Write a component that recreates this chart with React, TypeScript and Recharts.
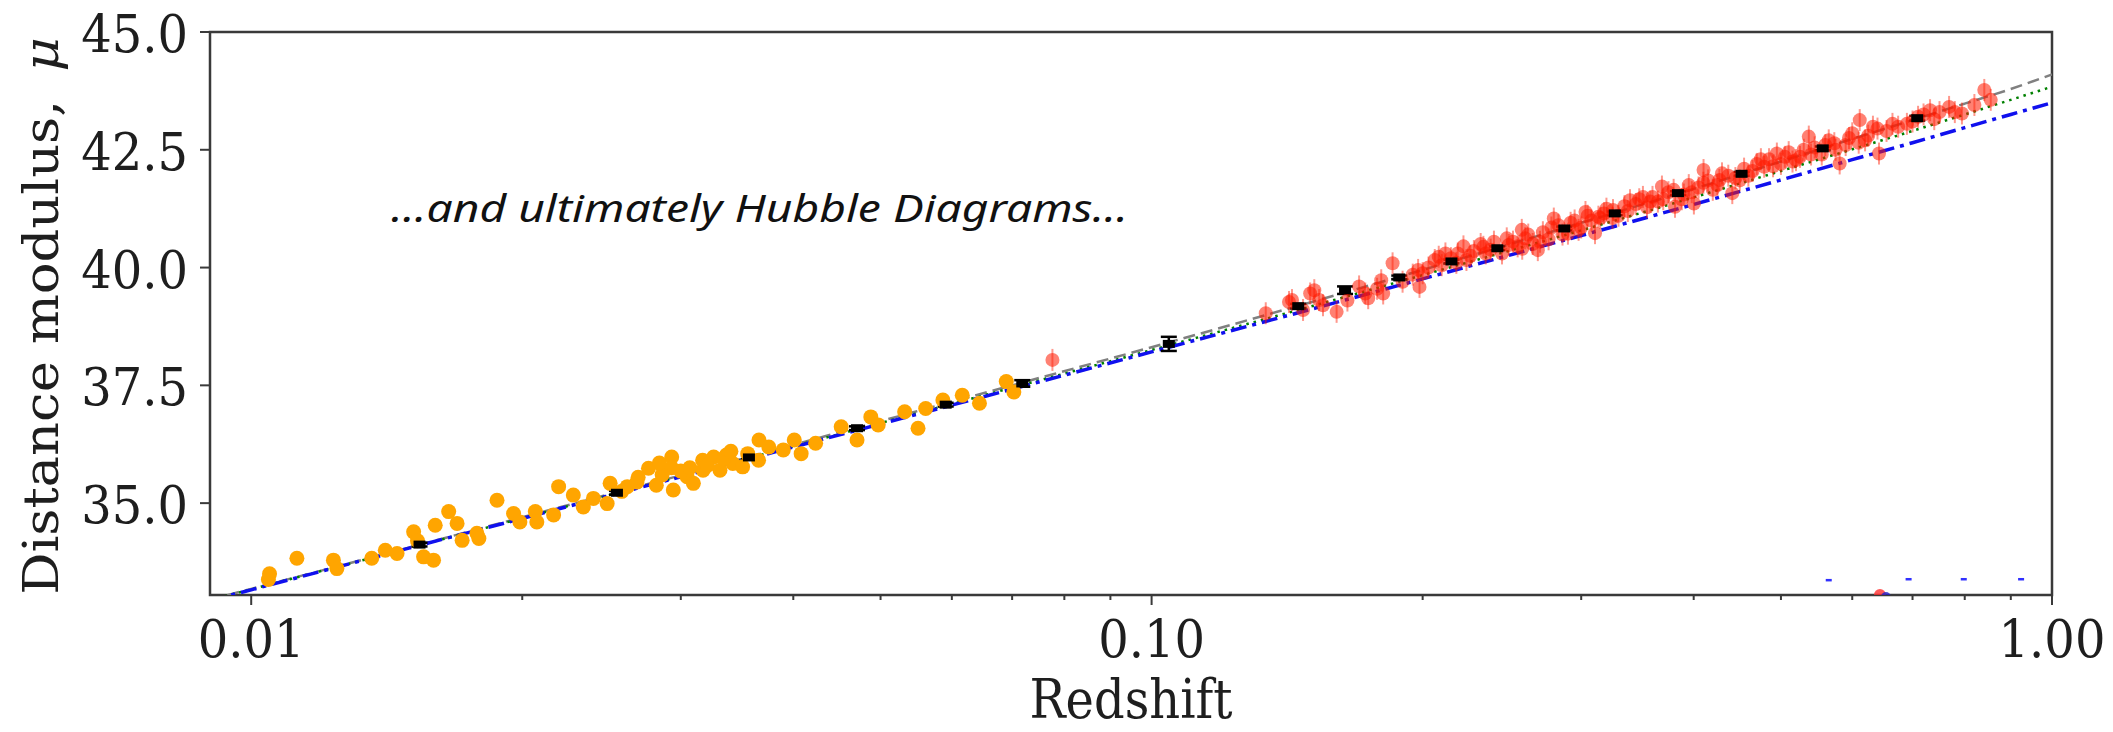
import React from 'react';
import { ComposedChart, Line, Scatter, XAxis, YAxis, ErrorBar, ReferenceArea, Label } from 'recharts';

const W = 2113;
const H = 732;
const serif = '"DejaVu Serif", serif';
const axisColor = '#3a3a3a';
const textColor = '#1e1e1e';

// axis ticks
const xMajorTicks = [0.01, 0.1, 1];
const xMinorTicks = [0.02, 0.03, 0.04, 0.05, 0.06, 0.07, 0.08, 0.09, 0.2, 0.3, 0.4, 0.5, 0.6, 0.7, 0.8, 0.9];
const yTicks = [35, 37.5, 40, 42.5, 45];

// low-redshift supernovae (orange)
const lowZ = [
  0.01045, 0.01048, 0.01124, 0.01234, 0.01245, 0.01361, 0.01409, 0.01452, 0.01515, 0.01554,
  0.01594, 0.01601, 0.01657, 0.01693, 0.01715, 0.01781, 0.01875, 0.01956, 0.01988, 0.02068,
  0.02076, 0.02167, 0.02195, 0.02279, 0.02338, 0.02399, 0.02485, 0.02504, 0.02616, 0.02682,
  0.02762, 0.02818, 0.02931, 0.02943, 0.0293, 0.03049, 0.03098, 0.03172, 0.03176, 0.03263,
  0.03316, 0.03371, 0.03427, 0.03514, 0.03664, 0.0366, 0.03757, 0.03899, 0.0401, 0.04081,
  0.04235, 0.04521, 0.04708, 0.04877, 0.0497, 0.05318, 0.05503, 0.05612, 0.05864, 0.06162,
  0.06439, 0.06896, 0.07031, 0.0286, 0.03, 0.0321, 0.0335, 0.0269, 0.0258, 0.0356,
  0.0284, 0.0307, 0.0153, 0.0179, 0.0341,
];
const lowMu = [
  33.38, 33.5, 33.83, 33.79, 33.61, 33.83, 34.0, 33.93, 34.39, 33.86,
  33.79, 34.53, 34.82, 34.57, 34.21, 34.36, 35.06, 34.78, 34.6, 34.82,
  34.6, 34.75, 35.35, 35.17, 34.92, 35.1, 34.99, 35.42, 35.35, 35.45,
  35.74, 35.38, 35.98, 35.28, 35.75, 35.56, 35.42, 35.91, 35.7, 35.98,
  35.7, 36.02, 35.84, 35.77, 36.34, 35.91, 36.19, 36.13, 36.34, 36.05,
  36.27, 36.62, 36.34, 36.83, 36.66, 36.94, 36.59, 37.01, 37.19, 37.29,
  37.12, 37.58, 37.36, 35.6, 35.68, 35.8, 35.95, 35.55, 35.25, 36.05,
  35.85, 35.75, 34.2, 34.25, 36.1,
];

// higher-redshift supernovae (red)
const highZ = [
  0.0776, 0.1339, 0.1421, 0.1432, 0.1473, 0.15, 0.1516, 0.1535, 0.1605, 0.1727,
  0.174, 0.1799, 0.1808, 0.1852, 0.1977, 0.1984, 0.2, 0.2063, 0.2084, 0.21,
  0.215, 0.2188, 0.222, 0.2237, 0.228, 0.2336, 0.235, 0.24, 0.245, 0.2493,
  0.252, 0.2577, 0.258, 0.26, 0.265, 0.2685, 0.272, 0.276, 0.2797, 0.283,
  0.29, 0.295, 0.3, 0.3033, 0.305, 0.3108, 0.3135, 0.315, 0.32, 0.3254,
  0.33, 0.335, 0.3399, 0.345, 0.3513, 0.355, 0.36, 0.365, 0.3688, 0.375,
  0.3813, 0.39, 0.395, 0.4002, 0.405, 0.4102, 0.415, 0.42, 0.4272, 0.43,
  0.4415, 0.445, 0.455, 0.46, 0.47, 0.479, 0.485, 0.4948, 0.5, 0.51,
  0.5196, 0.525, 0.5369, 0.545, 0.555, 0.565, 0.5731, 0.581, 0.59, 0.6,
  0.6116, 0.62, 0.6326, 0.6425, 0.655, 0.6747, 0.69, 0.71, 0.7321, 0.74,
  0.7686, 0.78, 0.7943, 0.841, 0.855, 0.155, 0.165, 0.17, 0.178, 0.19,
  0.195, 0.203, 0.212, 0.218, 0.226, 0.232, 0.238, 0.248, 0.255, 0.262,
  0.27, 0.278, 0.286, 0.292, 0.298, 0.308, 0.318, 0.325, 0.338, 0.348,
  0.358, 0.37, 0.38, 0.388, 0.398, 0.41, 0.425, 0.437, 0.45, 0.465,
  0.475, 0.49, 0.505, 0.515, 0.53, 0.54, 0.56, 0.575, 0.595, 0.61,
  0.625, 0.64, 0.665, 0.7, 0.72, 0.75, 0.82,
];
const highMu = [
  38.04, 39.03, 39.27, 39.31, 39.1, 39.45, 39.52, 39.31, 39.06, 39.45,
  39.35, 39.73, 39.45, 40.09, 39.95, 39.59, 39.88, 40.16, 40.23, 40.05,
  40.2, 40.3, 40.45, 40.16, 40.35, 40.44, 40.3, 40.55, 40.3, 40.48,
  40.55, 40.8, 40.4, 40.62, 40.5, 40.37, 40.75, 40.6, 41.04, 40.9,
  40.72, 41.0, 40.85, 41.18, 41.1, 40.73, 41.08, 41.05, 41.25, 41.22,
  41.1, 41.3, 41.43, 41.35, 41.5, 41.28, 41.5, 41.4, 41.72, 41.6,
  41.29, 41.55, 41.75, 41.36, 41.7, 42.07, 41.85, 41.65, 41.86, 42.0,
  41.58, 41.9, 42.1, 41.95, 42.2, 42.14, 42.3, 42.42, 42.2, 42.45,
  42.28, 42.35, 42.78, 42.55, 42.4, 42.7, 42.64, 42.21, 42.6, 42.85,
  43.13, 42.7, 42.99, 42.42, 42.9, 42.99, 43.05, 43.2, 43.34, 43.15,
  43.41, 43.3, 43.27, 43.77, 43.56, 39.2, 39.3, 39.6, 39.55, 39.7,
  39.85, 40.0, 40.3, 40.1, 40.25, 40.5, 40.38, 40.62, 40.45, 40.7,
  40.55, 40.85, 40.7, 40.95, 40.8, 41.0, 41.15, 41.05, 41.2, 41.45,
  41.4, 41.45, 41.65, 41.45, 41.6, 41.8, 41.75, 41.95, 41.85, 42.05,
  42.3, 42.15, 42.35, 42.25, 42.5, 42.4, 42.6, 42.5, 42.75, 42.65,
  42.8, 42.95, 43.05, 43.1, 43.25, 43.3, 43.45,
];

// binned averages (black)
const binZ = [0.01538, 0.02548, 0.03571, 0.04708, 0.05906, 0.07184, 0.1045, 0.1455, 0.164, 0.1884, 0.2153, 0.2421, 0.2873, 0.3269, 0.3842, 0.4521, 0.5564, 0.7085];
const binMu = [34.12, 35.22, 35.97, 36.59, 37.09, 37.54, 38.38, 39.18, 39.52, 39.79, 40.13, 40.41, 40.83, 41.15, 41.58, 41.99, 42.53, 43.17];
const binErr = [0.04, 0.04, 0.04, 0.04, 0.04, 0.07, 0.15, 0.05, 0.08, 0.04, 0.04, 0.04, 0.04, 0.04, 0.04, 0.04, 0.04, 0.05];

// stray marks at the bottom edge of the panel
const strayZ = [0.565, 0.693, 0.798, 0.924];
const strayMu = [33.37, 33.39, 33.39, 33.39];
const blobZ = [0.649];
const blobMu = [33.05];

// model curves
const modelZ = [0.009, 0.01, 0.015, 0.02, 0.03, 0.05, 0.07, 0.1, 0.15, 0.2, 0.3, 0.4, 0.5, 0.6, 0.7, 0.8, 0.9, 1.0];
const lcdmMu = [32.95, 33.18, 34.06, 34.7, 35.59, 36.74, 37.5, 38.31, 39.26, 39.95, 40.95, 41.67, 42.25, 42.73, 43.13, 43.48, 43.79, 44.1];
const openMu = [32.94, 33.17, 34.05, 34.68, 35.57, 36.7, 37.45, 38.25, 39.17, 39.84, 40.79, 41.49, 42.05, 42.51, 42.9, 43.25, 43.56, 43.84];
const edsMu = [32.93, 33.16, 34.05, 34.675, 35.56, 36.68, 37.42, 38.21, 39.11, 39.76, 40.68, 41.34, 41.86, 42.29, 42.65, 42.97, 43.25, 43.5];

const zip = (zs: number[], mus: number[]) => zs.map((z, i) => ({ z, mu: mus[i] }));

const lowData = zip(lowZ, lowMu);
const highData = zip(highZ, highMu);
const binData = binZ.map((z, i) => ({ z, mu: binMu[i], err: binErr[i] }));
const strayData = zip(strayZ, strayMu);
const blobData = zip(blobZ, blobMu);
const lcdmData = zip(modelZ, lcdmMu);
const openData = zip(modelZ, openMu);
const edsData = zip(modelZ, edsMu);

const XTick = ({ x, y, payload }: any) => {
  const major = xMajorTicks.includes(payload.value);
  return (
    <g>
      <line x1={x} x2={x} y1={y} y2={y + (major ? 10 : 5)} stroke={axisColor} strokeWidth={2} />
      {major && (
        <text transform={`translate(${x},${y + 62}) scale(1,1.1)`} textAnchor="middle" fontFamily={serif} fontSize={48} fill={textColor}>
          {payload.value.toFixed(2)}
        </text>
      )}
    </g>
  );
};

const YTick = ({ x, y, payload }: any) => (
  <g>
    <line x1={x - 10} x2={x} y1={y} y2={y} stroke={axisColor} strokeWidth={2} />
    <text transform={`translate(${x - 22},${y + 20}) scale(1,1.1)`} textAnchor="end" fontFamily={serif} fontSize={48} fill={textColor}>
      {payload.value.toFixed(1)}
    </text>
  </g>
);

const XTitle = ({ viewBox }: any) => (
  <text transform={`translate(${viewBox.x + viewBox.width / 2},${viewBox.y + 123}) scale(1,1.12)`} textAnchor="middle" fontFamily={serif} fontSize={48} fill={textColor}>
    Redshift
  </text>
);

const YTitle = () => (
  <text transform="translate(58,316) scale(1,1.1) rotate(-90)" textAnchor="middle" fontFamily={serif} fontSize={48} fill={textColor}>
    Distance modulus,
    <tspan dx={26} fontStyle="italic">μ</tspan>
  </text>
);

const orangeDot = (p: any) => <circle cx={p.cx} cy={p.cy} r={7.5} fill="#ffa500" />;
const redDot = (p: any) => (
  <g>
    <line x1={p.cx} x2={p.cx} y1={p.cy - 11} y2={p.cy + 11} stroke="#ff1a00" strokeOpacity={0.45} strokeWidth={2} />
    <circle cx={p.cx} cy={p.cy} r={7} fill="#ff1a00" fillOpacity={0.55} />
  </g>
);
const binMark = (p: any) => <rect x={p.cx - 6} y={p.cy - 4} width={12} height={8} fill="#000" />;
const strayMark = (p: any) => <rect x={p.cx - 3} y={p.cy - 1} width={6} height={2.5} fill="#3030ff" />;
const blobMark = (p: any) => (
  <g>
    <circle cx={p.cx - 3} cy={p.cy} r={6} fill="#ff3030" fillOpacity={0.8} />
    <circle cx={p.cx + 3} cy={p.cy + 2} r={5} fill="#2020cc" fillOpacity={0.8} />
  </g>
);

export default function App() {
  return (
    <div style={{ position: 'relative', width: W, height: H, margin: -8, background: '#fff' }}>
      <ComposedChart width={W} height={H} margin={{ top: 32, right: 61, bottom: 0, left: 0 }}>
        <XAxis
          type="number"
          dataKey="z"
          scale="log"
          domain={[0.009, 1]}
          allowDataOverflow
          ticks={[...xMajorTicks, ...xMinorTicks]}
          interval={0}
          height={137}
          axisLine={false}
          tickLine={false}
          tickSize={0}
          tickMargin={0}
          tick={<XTick />}
        >
          <Label content={<XTitle />} />
        </XAxis>
        <YAxis
          type="number"
          dataKey="mu"
          domain={[33.05, 45]}
          allowDataOverflow
          ticks={yTicks}
          interval={0}
          width={210}
          axisLine={false}
          tickLine={false}
          tickSize={0}
          tickMargin={0}
          tick={<YTick />}
        >
          <Label content={<YTitle />} />
        </YAxis>
        <Line data={lcdmData} dataKey="mu" type="monotone" stroke="#808080" strokeWidth={2.5} strokeDasharray="12 6" dot={false} isAnimationActive={false} />
        <Line data={openData} dataKey="mu" type="monotone" stroke="#008000" strokeWidth={2.5} strokeDasharray="2.5 5" dot={false} isAnimationActive={false} />
        <Line data={edsData} dataKey="mu" type="monotone" stroke="#1010ee" strokeWidth={3.5} strokeDasharray="16 6 4 6" dot={false} isAnimationActive={false} />
        <Scatter data={lowData} dataKey="mu" shape={orangeDot} isAnimationActive={false} />
        <Scatter data={highData} dataKey="mu" shape={redDot} isAnimationActive={false} />
        <Scatter data={binData} dataKey="mu" shape={binMark} isAnimationActive={false}>
          <ErrorBar dataKey="err" direction="y" width={8} strokeWidth={2.5} stroke="#000" isAnimationActive={false} />
        </Scatter>
        <Scatter data={strayData} dataKey="mu" shape={strayMark} isAnimationActive={false} />
        <Scatter data={blobData} dataKey="mu" shape={blobMark} isAnimationActive={false} />
        <ReferenceArea x1={0.009} x2={1} y1={33.05} y2={45} fill="none" stroke={axisColor} strokeWidth={2.5} ifOverflow="visible" />
      </ComposedChart>
      <svg width={W} height={H} style={{ position: 'absolute', left: 0, top: 0, pointerEvents: 'none' }}>
        <text
          x={391}
          y={222}
          fontFamily='"Noto Sans", "Open Sans", sans-serif'
          fontStyle="italic"
          fontSize={39}
          fill="#111"
          textLength={737}
          lengthAdjust="spacingAndGlyphs"
        >
          …and ultimately Hubble Diagrams…
        </text>
      </svg>
    </div>
  );
}
